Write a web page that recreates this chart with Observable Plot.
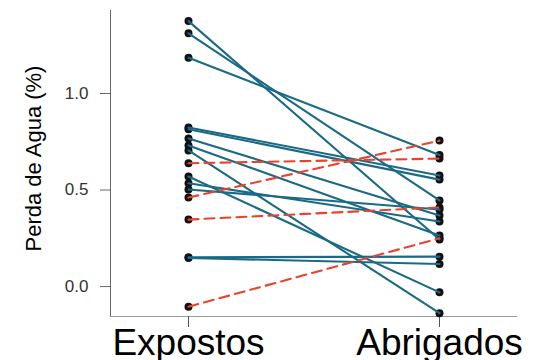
<!DOCTYPE html>
<html>
<head>
<meta charset="utf-8">
<script src="https://cdn.jsdelivr.net/npm/d3@7"></script>
<script src="https://cdn.jsdelivr.net/npm/@observablehq/plot@0.6"></script>
<style>
  html, body { margin: 0; padding: 0; background: #fff; }
  #chart svg { font-family: "Liberation Sans", Arial, sans-serif; display: block; }
</style>
</head>
<body>
<div id="chart"></div>
<script>
const categories = ["Expostos", "Abrigados"];
const expostos  = [1.375, 1.312, 1.185, 0.824, 0.815, 0.767, 0.731, 0.705, 0.570, 0.535, 0.503, 0.152, 0.148, 0.639, 0.461, 0.347, -0.104];
const abrigados = [0.244, 0.446, 0.681, 0.575, 0.554, 0.368, 0.264, -0.138, -0.030, 0.337, 0.399, 0.155, 0.117, 0.663, 0.756, 0.410, 0.250];
const trend     = ["down","down","down","down","down","down","down","down","down","down","down","down","down","up","up","up","up"];
const yTicks = [0, 0.5, 1.0];
const yLabel = "Perda de Agua (%)";

const rows = expostos.flatMap((e, i) => [
  {id: i, cond: categories[0], v: e, g: trend[i]},
  {id: i, cond: categories[1], v: abrigados[i], g: trend[i]}
]);

const blue = "#1a6a85";
const red = "#e8432f";

const chart = Plot.plot({
  width: 534,
  height: 360,
  marginLeft: 110,
  marginRight: 18,
  marginTop: 10,
  marginBottom: 44,
  x: {type: "point", domain: categories, padding: 0.306},
  y: {domain: [-0.155, 1.43]},
  marks: [
    Plot.frame({anchor: "left", stroke: "#666"}),
    Plot.frame({anchor: "bottom", stroke: "#999"}),
    Plot.axisY({ticks: yTicks, tickFormat: d => d.toFixed(1), tickSize: 10, tickPadding: 12, fontSize: 17, stroke: "#666", fill: "#333", label: null}),
    Plot.axisX({tickSize: 11, tickPadding: 1, fontSize: 37, stroke: "#555", fill: "#000", label: null}),
    Plot.dot(rows, {x: "cond", y: "v", r: 4, fill: "#111", stroke: "none"}),
    Plot.line(rows.filter(d => d.g === "down"), {x: "cond", y: "v", z: "id", stroke: blue, strokeWidth: 2.1}),
    Plot.line(rows.filter(d => d.g === "up"), {x: "cond", y: "v", z: "id", stroke: red, strokeWidth: 2.1, strokeDasharray: "10,6"}),
    Plot.text([yLabel], {frameAnchor: "left", text: d => d, rotate: -90, dx: -70, dy: -5, fontSize: 22, lineAnchor: "bottom", textAnchor: "middle", fill: "#000"})
  ]
});
document.getElementById("chart").appendChild(chart);
</script>
</body>
</html>
